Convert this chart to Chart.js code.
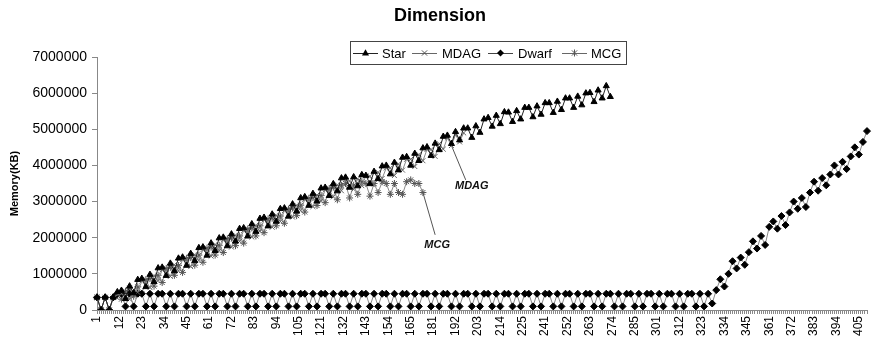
<!DOCTYPE html>
<html>
<head>
<meta charset="utf-8">
<script src="https://cdn.jsdelivr.net/npm/chart.js@4/dist/chart.umd.min.js"></script>
<style>
  body { margin: 0; background: #fff; }
</style>
</head>
<body>
<canvas id="dimensionChart" width="872" height="350"></canvas>
<script>
// x categories: 1..409, the row numbers skip five values in every sixty (51-55, 111-115, ...)
const categories = [];
for (let n = 1; categories.length < 379; n++) {
    if ((n - 1) % 60 < 50 || (n - 1) % 60 > 54) categories.push(String(n));
}
const labelEvery = 11;

// Memory (KB), one reading every second category
const star = [
    350000, 0, 350000, 0, 350000,
    500000, 540000, 310000, 660000, 470000,
    840000, 870000, 640000, 980000, 780000,
    1160000, 1180000, 950000, 1290000, 1080000,
    1430000, 1460000, 1230000, 1560000, 1360000,
    1720000, 1740000, 1510000, 1850000, 1640000,
    1990000, 2010000, 1770000, 2100000, 1900000,
    2250000, 2270000, 2040000, 2380000, 2170000,
    2530000, 2560000, 2320000, 2650000, 2450000,
    2800000, 2820000, 2590000, 2930000, 2730000,
    3100000, 3130000, 2890000, 3220000, 3010000,
    3370000, 3390000, 3160000, 3490000, 3290000,
    3650000, 3670000, 3390000, 3680000, 3430000,
    3740000, 3720000, 3490000, 3830000, 3630000,
    3980000, 4000000, 3760000, 4080000, 3870000,
    4220000, 4240000, 4000000, 4330000, 4130000,
    4480000, 4510000, 4270000, 4610000, 4430000,
    4800000, 4830000, 4600000, 4930000, 4700000,
    5030000, 5030000, 4770000, 5090000, 4910000,
    5280000, 5320000, 5080000, 5380000, 5150000,
    5480000, 5470000, 5210000, 5510000, 5280000,
    5600000, 5600000, 5340000, 5640000, 5410000,
    5730000, 5730000, 5460000, 5770000, 5540000,
    5860000, 5860000, 5600000, 5910000, 5670000,
    6000000, 6010000, 5760000, 6080000, 5860000,
    6200000, 5900000
];
const mdag = [
    350000, 0, 350000, 0, 350000,
    420000, 450000, 380000, 300000, 560000,
    490000, 800000, 810000, 620000, 950000,
    810000, 1110000, 1120000, 930000, 1250000,
    1080000, 1390000, 1400000, 1200000, 1530000,
    1370000, 1670000, 1680000, 1490000, 1810000,
    1640000, 1940000, 1940000, 1740000, 2070000,
    1900000, 2200000, 2210000, 2020000, 2340000,
    2180000, 2490000, 2490000, 2290000, 2620000,
    2450000, 2750000, 2760000, 2570000, 2900000,
    2750000, 3060000, 3060000, 2860000, 3180000,
    3020000, 3320000, 3330000, 3130000, 3460000,
    3300000, 3600000, 3570000, 3340000, 3630000,
    3440000, 3710000, 3700000, 3490000, 3810000,
    3640000, 3930000, 3930000, 3720000, 4040000,
    3870000, 4170000, 4170000, 3970000, 4300000,
    4130000, 4440000, 4440000, 4250000, 4600000,
    4450000, 4760000, 4550000, 4850000, 4650000,
    4900000
];
const dwarf = [
    350000, 0, 350000, 0, 350000,
    450000, 450000, 100000, 450000, 100000,
    450000, 450000, 100000, 450000, 100000,
    450000, 450000, 100000, 450000, 100000,
    450000, 450000, 100000, 450000, 100000,
    450000, 450000, 100000, 450000, 100000,
    450000, 450000, 100000, 450000, 100000,
    450000, 450000, 100000, 450000, 100000,
    450000, 450000, 100000, 450000, 100000,
    450000, 450000, 100000, 450000, 100000,
    450000, 450000, 100000, 450000, 100000,
    450000, 450000, 100000, 450000, 100000,
    450000, 450000, 100000, 450000, 100000,
    450000, 450000, 100000, 450000, 100000,
    450000, 450000, 100000, 450000, 100000,
    450000, 450000, 100000, 450000, 100000,
    450000, 450000, 100000, 450000, 100000,
    450000, 450000, 100000, 450000, 100000,
    450000, 450000, 100000, 450000, 100000,
    450000, 450000, 100000, 450000, 100000,
    450000, 450000, 100000, 450000, 100000,
    450000, 450000, 100000, 450000, 100000,
    450000, 450000, 100000, 450000, 100000,
    450000, 450000, 100000, 450000, 100000,
    450000, 450000, 100000, 450000, 100000,
    450000, 450000, 100000, 450000, 100000,
    450000, 450000, 100000, 450000, 100000,
    450000, 450000, 100000, 450000, 100000,
    450000, 450000, 100000, 450000, 100000,
    450000, 450000, 100000, 450000, 100000,
    450000, 180000,
    550000, 850000, 650000, 1000000, 1350000, 1150000, 1450000, 1250000,
    1600000, 1900000, 1700000, 2050000, 1800000, 2300000, 2450000, 2250000,
    2600000, 2350000, 2700000, 3000000, 2800000, 3100000, 2850000, 3250000,
    3550000, 3300000, 3650000, 3450000, 3750000, 4000000, 3750000, 4100000,
    3900000, 4250000, 4500000, 4300000, 4650000, 4950000
];
const mcg = [
    350000, 0, 350000, 0, 350000,
    400000, 300000, 520000, 600000, 380000,
    640000, 450000, 840000, 870000, 660000,
    960000, 760000, 1150000, 1180000, 960000,
    1230000, 1040000, 1430000, 1450000, 1240000,
    1520000, 1320000, 1710000, 1740000, 1520000,
    1790000, 1590000, 1970000, 1990000, 1780000,
    2050000, 1850000, 2240000, 2270000, 2050000,
    2330000, 2140000, 2520000, 2540000, 2330000,
    2600000, 2400000, 2790000, 2820000, 2610000,
    2900000, 2710000, 3090000, 3110000, 2890000,
    3170000, 2970000, 3360000, 3400000, 3050000,
    3450000, 3500000, 3100000, 3450000, 3200000,
    3550000, 3500000, 3150000, 3500000, 3250000,
    3550000, 3500000, 3200000, 3500000, 3250000,
    3200000, 3550000, 3600000, 3500000, 3500000,
    3250000
];

// callouts on the plot: [category index, value]
const callouts = [
    { text: 'MDAG', dataset: 1, point: 174, lineTo: [181, 3600000], at: [184, 3430000] },
    { text: 'MCG', dataset: 3, point: 160, lineTo: [166, 2080000], at: [167, 1800000] }
];

// readings sit on every second category, the line is drawn across the gaps
const spread = vals => vals.flatMap((v, i) => i === 0 ? [v] : [null, v]);

const FONT = "'Liberation Sans', Arial, sans-serif";
Chart.defaults.font.family = FONT;
Chart.defaults.color = '#000';

function drawMarker(ctx, style, x, y, r) {
    ctx.beginPath();
    if (style === 'triangle') {
        ctx.moveTo(x, y - r * 1.1);
        ctx.lineTo(x + r, y + r * 0.7);
        ctx.lineTo(x - r, y + r * 0.7);
        ctx.closePath();
        ctx.fill();
    } else if (style === 'rectRot') {
        ctx.moveTo(x, y - r);
        ctx.lineTo(x + r, y);
        ctx.lineTo(x, y + r);
        ctx.lineTo(x - r, y);
        ctx.closePath();
        ctx.fill();
    } else {
        const d = r * 0.75;
        ctx.moveTo(x - d, y - d); ctx.lineTo(x + d, y + d);
        ctx.moveTo(x + d, y - d); ctx.lineTo(x - d, y + d);
        if (style === 'star') { ctx.moveTo(x, y - r); ctx.lineTo(x, y + r); }
        ctx.stroke();
    }
}

const legendItems = [
    { text: 'Star', style: 'triangle', line: '#222', mark: '#000', x: 353, tx: 382 },
    { text: 'MDAG', style: 'crossRot', line: '#666', mark: '#555', x: 412, tx: 442 },
    { text: 'Dwarf', style: 'rectRot', line: '#444', mark: '#000', x: 488, tx: 518 },
    { text: 'MCG', style: 'star', line: '#666', mark: '#555', x: 562, tx: 591 }
];

const decor = {
    id: 'decor',
    afterDatasetsDraw(chart) {
        const ctx = chart.ctx;
        const xs = chart.scales.x, ys = chart.scales.y;
        ctx.save();
        callouts.forEach(c => {
            const pt = chart.getDatasetMeta(c.dataset).data[c.point];
            ctx.strokeStyle = '#555';
            ctx.lineWidth = 1;
            ctx.beginPath();
            ctx.moveTo(pt.x, pt.y);
            ctx.lineTo(xs.getPixelForValue(c.lineTo[0]), ys.getPixelForValue(c.lineTo[1]));
            ctx.stroke();
            ctx.fillStyle = '#111';
            ctx.font = 'italic bold 11px ' + FONT;
            ctx.textAlign = 'center';
            ctx.textBaseline = 'middle';
            ctx.fillText(c.text, xs.getPixelForValue(c.at[0]), ys.getPixelForValue(c.at[1]));
        });
        ctx.restore();
    },
    afterDraw(chart) {
        const ctx = chart.ctx;
        ctx.save();
        // title
        ctx.fillStyle = '#000';
        ctx.font = 'bold 18px ' + FONT;
        ctx.textAlign = 'center';
        ctx.textBaseline = 'middle';
        ctx.fillText('Dimension', 440, 16);
        // legend box
        ctx.fillStyle = '#fff';
        ctx.fillRect(350, 41, 276, 23);
        ctx.strokeStyle = '#444';
        ctx.lineWidth = 1;
        ctx.strokeRect(350.5, 41.5, 276, 23);
        const ly = 53;
        ctx.font = '13px ' + FONT;
        ctx.textAlign = 'left';
        legendItems.forEach(it => {
            ctx.strokeStyle = it.line;
            ctx.beginPath();
            ctx.moveTo(it.x, ly + 0.5);
            ctx.lineTo(it.x + 25, ly + 0.5);
            ctx.stroke();
            ctx.fillStyle = it.mark;
            ctx.strokeStyle = it.mark;
            drawMarker(ctx, it.style, it.x + 12.5, ly, 3.5);
            ctx.fillStyle = '#000';
            ctx.fillText(it.text, it.tx, ly + 1);
        });
        ctx.restore();
    }
};

const ctx = document.getElementById('dimensionChart').getContext('2d');
const dimensionChart = new Chart(ctx, {
    type: 'line',
    data: {
        labels: categories,
        datasets: [{
            label: 'Star',
            data: spread(star),
            borderColor: '#222',
            borderWidth: 1,
            pointStyle: 'triangle',
            pointRadius: 3.5,
            pointBackgroundColor: '#000',
            pointBorderColor: '#000',
            pointBorderWidth: 1
        }, {
            label: 'MDAG',
            data: spread(mdag),
            borderColor: '#8a8a8a',
            borderWidth: 1,
            pointStyle: 'crossRot',
            pointRadius: 3.5,
            pointBorderColor: '#666',
            pointBorderWidth: 1
        }, {
            label: 'Dwarf',
            data: spread(dwarf),
            borderColor: '#888',
            borderWidth: 1,
            pointStyle: 'rectRot',
            pointRadius: 3.5,
            pointBackgroundColor: '#000',
            pointBorderColor: '#000',
            pointBorderWidth: 1
        }, {
            label: 'MCG',
            data: spread(mcg),
            borderColor: '#8a8a8a',
            borderWidth: 1,
            pointStyle: 'star',
            pointRadius: 3.5,
            pointBorderColor: '#555',
            pointBorderWidth: 1
        }]
    },
    options: {
        responsive: false,
        animation: false,
        spanGaps: true,
        layout: { padding: { top: 57, right: 1, left: 0, bottom: 0 } },
        plugins: {
            legend: { display: false },
            title: { display: false },
            tooltip: { enabled: false }
        },
        scales: {
            x: {
                offset: false,
                afterFit: s => { s.height = 40; s.paddingLeft = 0; s.paddingRight = 0; },
                grid: { drawOnChartArea: false, drawTicks: true, tickLength: 4, color: '#888' },
                border: { color: '#888' },
                ticks: {
                    autoSkip: false,
                    minRotation: 90,
                    maxRotation: 90,
                    padding: 2,
                    font: { size: 12 },
                    callback: (v, i) => i % labelEvery === 0 ? categories[i] : ''
                }
            },
            y: {
                min: 0,
                max: 7000000,
                afterFit: s => { s.width = 97; },
                grid: { drawOnChartArea: false, drawTicks: true, tickLength: 5, color: '#888' },
                border: { color: '#888' },
                ticks: {
                    stepSize: 1000000,
                    padding: 5,
                    font: { size: 14 },
                    callback: v => String(v)
                },
                title: {
                    display: true,
                    text: 'Memory(KB)',
                    font: { size: 11, weight: 'bold' },
                    padding: { top: 8, bottom: 0 }
                }
            }
        }
    },
    plugins: [decor]
});
</script>
</body>
</html>
